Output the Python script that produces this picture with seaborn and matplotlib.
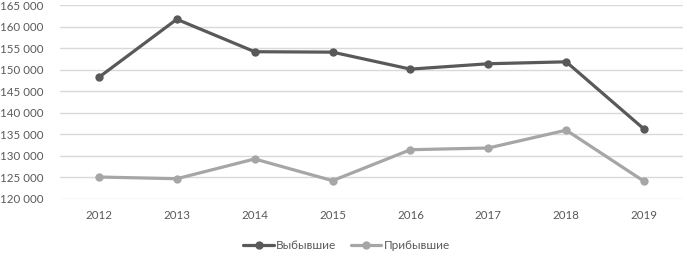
import matplotlib
matplotlib.use("Agg")
import matplotlib.pyplot as plt
import seaborn as sns
import pandas as pd

years = [2012, 2013, 2014, 2015, 2016, 2017, 2018, 2019]
departed = [148200, 161700, 154150, 154050, 150100, 151350, 151800, 136150]
arrived = [125000, 124600, 129200, 124150, 131350, 131750, 135900, 124000]
series_names = ["Выбывшие", "Прибывшие"]
y_ticks = [120000, 125000, 130000, 135000, 140000, 145000, 150000, 155000, 160000, 165000]

df = pd.DataFrame({
    "year": years * 2,
    "value": departed + arrived,
    "series": [series_names[0]] * len(years) + [series_names[1]] * len(years),
})

sns.set_theme(style="white")
plt.rcParams["font.family"] = ["Lato", "DejaVu Sans"]

fig = plt.figure(figsize=(6.83, 2.54), dpi=100)
ax = fig.add_axes([0.0878, 0.2185, 0.9122, 0.7615])

palette = {series_names[0]: "#595959", series_names[1]: "#a6a6a6"}
sns.lineplot(data=df, x="year", y="value", hue="series", palette=palette,
             marker="o", markersize=6, markeredgewidth=0, linewidth=2.3,
             ax=ax, legend=True, zorder=3)

ax.set_xlim(years[0] - 0.5, years[-1] + 0.5)
ax.set_ylim(y_ticks[0], y_ticks[-1])
ax.set_xticks(years)
ax.set_xticklabels([str(y) for y in years])
ax.set_yticks(y_ticks)
ax.set_yticklabels([f"{v:,}".replace(",", " ") for v in y_ticks])
ax.grid(axis="y", color="#d9d9d9", linewidth=1.0)
ax.set_axisbelow(True)
for s in ax.spines.values():
    s.set_visible(False)
ax.set_xlabel("")
ax.set_ylabel("")
ax.tick_params(axis="both", colors="#595959", labelsize=8.3, length=0)
ax.tick_params(axis="y", pad=12)
ax.tick_params(axis="x", pad=8)

leg = ax.legend(loc="upper center", bbox_to_anchor=(0.46, -0.16), ncol=2,
                frameon=False, fontsize=8.5, handlelength=2.6,
                columnspacing=1.2, handletextpad=0.2)
for t in leg.get_texts():
    t.set_color("#595959")

fig.savefig("out.png", dpi=100)
